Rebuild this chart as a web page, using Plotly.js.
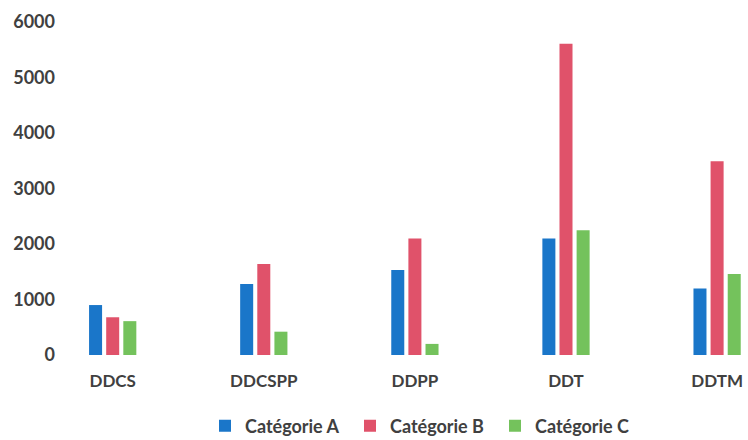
<!DOCTYPE html>
<html>
<head>
<meta charset="utf-8">
<script src="https://cdn.plot.ly/plotly-3.0.1.min.js"></script>
<style>html,body{margin:0;padding:0;background:#fff;}#chart{width:748px;height:440px;}</style>
</head>
<body>
<div id="chart"></div>
<script>
const categories = ["DDCS", "DDCSPP", "DDPP", "DDT", "DDTM"];
const seriesNames = ["Catégorie A", "Catégorie B", "Catégorie C"];
const valuesA = [900, 1280, 1530, 2100, 1200];
const valuesB = [680, 1640, 2100, 5610, 3490];
const valuesC = [610, 420, 200, 2250, 1460];
const yTicks = [0, 1000, 2000, 3000, 4000, 5000, 6000];
const colors = ["#1a76c9", "#e0526a", "#74c25c"];

const allValues = [valuesA, valuesB, valuesC];
const traces = allValues.map((vals, i) => ({
  type: "bar",
  name: seriesNames[i],
  x: categories,
  y: vals,
  marker: {color: colors[i]},
  hoverinfo: "x+y+name"
}));

const fontFamily = "Lato, 'Open Sans', sans-serif";
const layout = {
  width: 748,
  height: 440,
  margin: {l: 62, r: 0, t: 22, b: 85, autoexpand: false},
  paper_bgcolor: "#ffffff",
  plot_bgcolor: "#ffffff",
  barmode: "group",
  bargap: 0.66,
  bargroupgap: 0.24,
  font: {family: fontFamily, size: 18, color: "#404040", weight: "bold"},
  xaxis: {
    type: "category",
    range: [-0.3355, 4.2045],
    automargin: false,
    showgrid: false,
    zeroline: false,
    showline: false,
    ticks: "",
    tickfont: {family: fontFamily, size: 17, color: "#404040", weight: "bold"},
    ticklabelstandoff: 14
  },
  yaxis: {
    range: [0, 6000],
    automargin: false,
    tickvals: yTicks,
    ticktext: yTicks.map(String),
    showgrid: false,
    zeroline: false,
    showline: false,
    ticks: "",
    tickfont: {family: fontFamily, size: 18, color: "#404040", weight: "bold"},
    ticklabelstandoff: 6
  },
  showlegend: true,
  legend: {
    orientation: "h",
    x: (205 - 62) / 686,
    xanchor: "left",
    y: -(426 - 355) / 333,
    yanchor: "middle",
    entrywidth: 100,
    entrywidthmode: "pixels",
    font: {family: fontFamily, size: 18, color: "#404040", weight: "bold"},
    bgcolor: "rgba(0,0,0,0)"
  }
};

Plotly.newPlot("chart", traces, layout, {displayModeBar: false, staticPlot: true});
</script>
</body>
</html>
